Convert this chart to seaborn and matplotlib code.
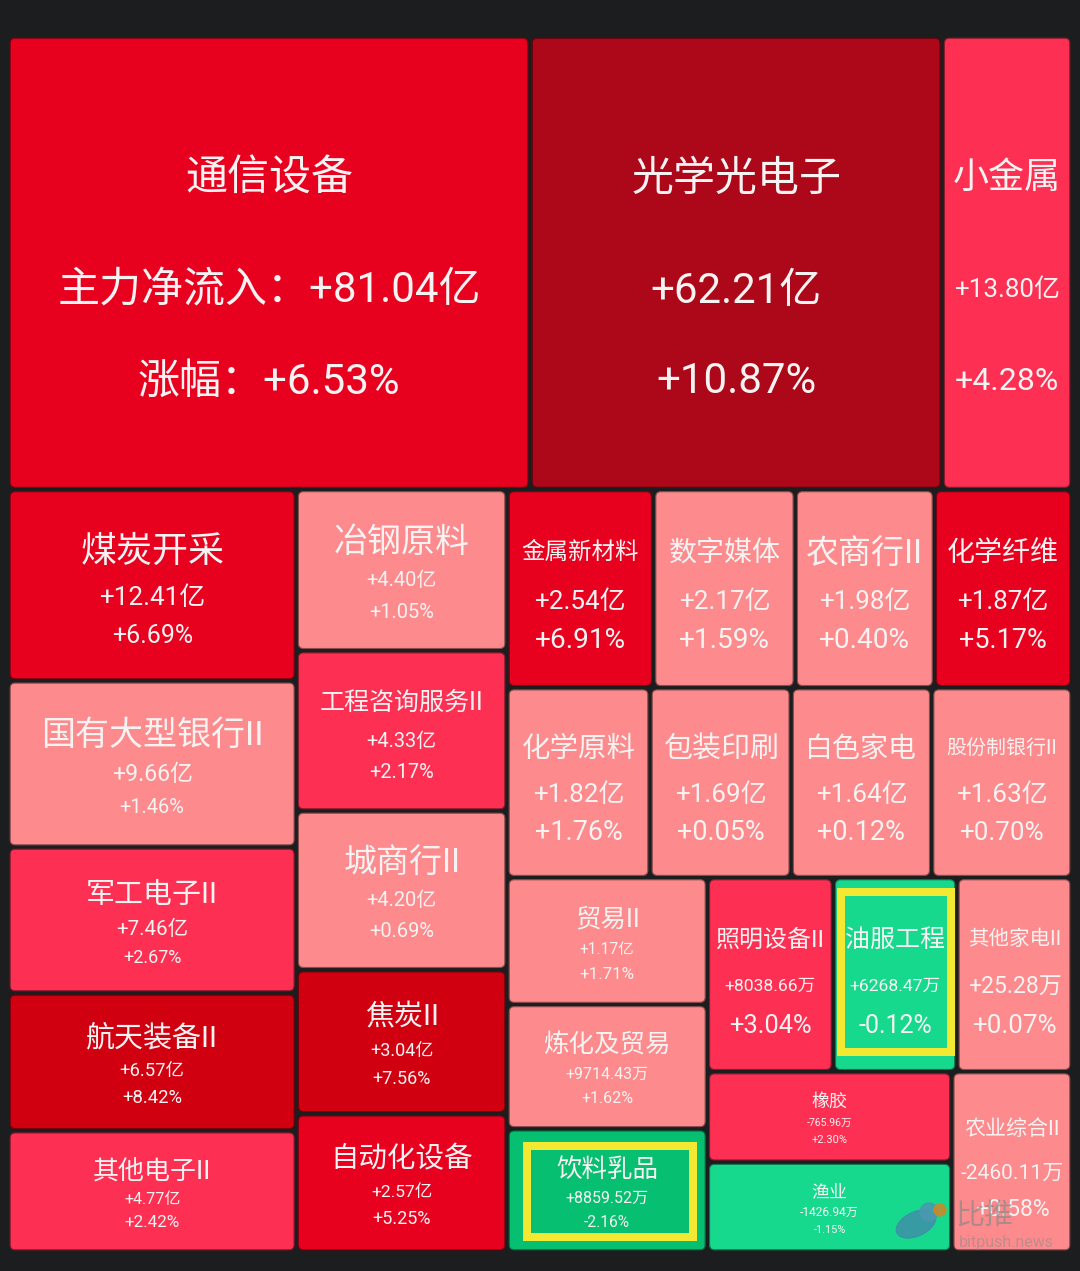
import numpy as np
import pandas as pd
import seaborn as sns
import matplotlib
matplotlib.use("Agg")
import matplotlib.pyplot as plt
from matplotlib.patches import FancyBboxPatch, Rectangle, Ellipse, Circle

# ---------------- data ----------------
sectors = ["通信设备", "光学光电子", "小金属",
           "煤炭开采", "国有大型银行II", "军工电子II", "航天装备II", "其他电子II",
           "冶钢原料", "工程咨询服务II", "城商行II", "焦炭II", "自动化设备",
           "金属新材料", "数字媒体", "农商行II", "化学纤维",
           "化学原料", "包装印刷", "白色家电", "股份制银行II",
           "贸易II", "炼化及贸易", "饮料乳品",
           "照明设备II", "油服工程", "其他家电II",
           "橡胶", "渔业", "农业综合II"]
inflow_text = ["+81.04亿", "+62.21亿", "+13.80亿",
               "+12.41亿", "+9.66亿", "+7.46亿", "+6.57亿", "+4.77亿",
               "+4.40亿", "+4.33亿", "+4.20亿", "+3.04亿", "+2.57亿",
               "+2.54亿", "+2.17亿", "+1.98亿", "+1.87亿",
               "+1.82亿", "+1.69亿", "+1.64亿", "+1.63亿",
               "+1.17亿", "+9714.43万", "+8859.52万",
               "+8038.66万", "+6268.47万", "+25.28万",
               "-765.96万", "-1426.94万", "-2460.11万"]
change_pct = [6.53, 10.87, 4.28,
              6.69, 1.46, 2.67, 8.42, 2.42,
              1.05, 2.17, 0.69, 7.56, 5.25,
              6.91, 1.59, 0.40, 5.17,
              1.76, 0.05, 0.12, 0.70,
              1.71, 1.62, -2.16,
              3.04, -0.12, 0.07,
              2.30, -1.15, 0.58]
# treemap box size (value encoded by the cell area)
box_size = [89.48, 70.65, 22.24,
            20.85, 18.10, 15.90, 15.01, 13.21,
            12.84, 12.77, 12.64, 11.48, 11.01,
            10.98, 10.61, 10.42, 10.31,
            10.26, 10.13, 10.08, 10.07,
            9.61, 9.41, 9.33,
            9.24, 9.07, 8.44,
            8.36, 8.30, 8.19]

df = pd.DataFrame({"sector": sectors, "inflow": inflow_text,
                   "pct": change_pct, "size": box_size})

# ---------------- styles ----------------
BG = "#1c1d1f"
bins = [-5, -2, 0, 2, 5, 7, 10]
palette = sns.color_palette(["#07b865", "#07bf70", "#16d98d", "#fd8a8c", "#fd2f52",
                             "#e8001f", "#d00010", "#ad0819"])
groups = [(3, "row"), (5, "col"), (5, "col"), (4, "row"), (4, "row"),
          (3, "col"), (3, "row"), (2, "col"), (1, "row")]
# font sizes (px) for name / inflow / change
font_px = [(42, 42, 42), (42, 42, 42), (36, 26, 32),
           (36, 26, 25), (34, 23, 20), (29, 20.5, 18), (29, 18.5, 18.5), (26, 16, 17),
           (34, 20, 20), (25, 20, 20), (33, 20, 20), (29, 18, 18), (28.5, 17.5, 18),
           (23.5, 26, 28), (28, 26, 28), (33, 26, 28), (28, 26, 27),
           (28.5, 26, 27), (29, 26, 27), (28, 26, 27), (20, 26, 26),
           (25.5, 15.5, 17), (25.5, 16, 16), (25.5, 16, 15.5),
           (24, 17.5, 25.5), (25, 17.5, 25), (20.5, 23, 26),
           (18, 10.5, 11), (18, 12, 11), (21, 21, 23)]
prefixes = {"通信设备": ("主力净流入：", "涨幅：")}
highlight = {"油服工程": (1, 8, 0, 13), "饮料乳品": (14, 11, 8, 9)}  # l, t, r, b insets

sns.set_style("dark")
plt.rcParams["font.family"] = ["Roboto", "Noto Sans CJK SC", "DejaVu Sans"]

W_PX, H_PX = 1080, 1271
fig = plt.figure(figsize=(W_PX / 100, H_PX / 100), dpi=100, facecolor=BG)
x0, y0, x1, y1 = 8, 36, 1072, 1252
ax = fig.add_axes([x0 / W_PX, 1 - y1 / H_PX, (x1 - x0) / W_PX, (y1 - y0) / H_PX])
ax.set_facecolor(BG)
W, H = x1 - x0, y1 - y0
ax.set_xlim(0, W)
ax.set_ylim(H, 0)
ax.axis("off")


def layout(sizes, groups, x, y, w, h):
    scale = w * h / float(sum(sizes))
    rects, idx = [], 0
    for n, orient in groups:
        items = sizes[idx:idx + n]
        garea = sum(items) * scale
        if orient == "col":
            cw = garea / h
            yy = y
            for s in items:
                hh = s * scale / cw
                rects.append((x, yy, cw, hh))
                yy += hh
            x += cw
            w -= cw
        else:
            rh = garea / w
            xx = x
            for s in items:
                ww = s * scale / rh
                rects.append((xx, y, ww, rh))
                xx += ww
            y += rh
            h -= rh
        idx += n
    return rects


rects = layout(list(df["size"]), groups, 0, 0, W, H)
color_idx = np.digitize(df["pct"].values, bins)
gap = 2.2
fracs = (0.305, 0.555, 0.757)
pt = 0.72

for i, (rx, ry, rw, rh) in enumerate(rects):
    row = df.iloc[i]
    col = palette[color_idx[i]]
    edge = tuple(c * 0.55 for c in col)
    bx, by, bw, bh = rx + gap, ry + gap, rw - 2 * gap, rh - 2 * gap
    ax.add_patch(FancyBboxPatch((bx, by), bw, bh,
                                boxstyle="round,pad=0,rounding_size=5",
                                facecolor=col, edgecolor=edge, linewidth=0.8))
    if row["sector"] in highlight:
        l, t, r, b = highlight[row["sector"]]
        lw = 8
        ax.add_patch(Rectangle((bx + l + lw / 2, by + t + lw / 2),
                               bw - l - r - lw, bh - t - b - lw,
                               fill=False, edgecolor="#f3e832", linewidth=lw * pt))
    p1, p2 = prefixes.get(row["sector"], ("", ""))
    lines = [row["sector"], p1 + row["inflow"], p2 + f"{row['pct']:+.2f}%"]
    cx = bx + bw / 2
    for line, fr, fs in zip(lines, fracs, font_px[i]):
        ax.text(cx, by + fr * bh + 0.09 * fs, line, ha="center", va="center",
                color="#f7f3f3", fontsize=fs * pt)

# watermark (bird + site name)
ax.add_patch(Ellipse((916 - x0, 1224 - y0), 42, 24, angle=-25,
                     color="#3f8fa8", alpha=0.85, zorder=5))
ax.add_patch(Circle((929 - x0, 1212 - y0), 9, color="#4a98b0", alpha=0.9, zorder=5))
ax.add_patch(Circle((940 - x0, 1210 - y0), 6, color="#c88a2c", alpha=0.9, zorder=5))
ax.text(984 - x0, 1216 - y0, "比推", color="#8a8a8a", alpha=0.7, fontsize=29 * pt,
        ha="center", va="center", style="italic", zorder=6)
ax.text(1006 - x0, 1243 - y0, "bitpush.news", color="#8a8a8a", alpha=0.5,
        fontsize=16 * pt, ha="center", va="center", zorder=6)

fig.savefig("out.png", dpi=100, facecolor=BG)
